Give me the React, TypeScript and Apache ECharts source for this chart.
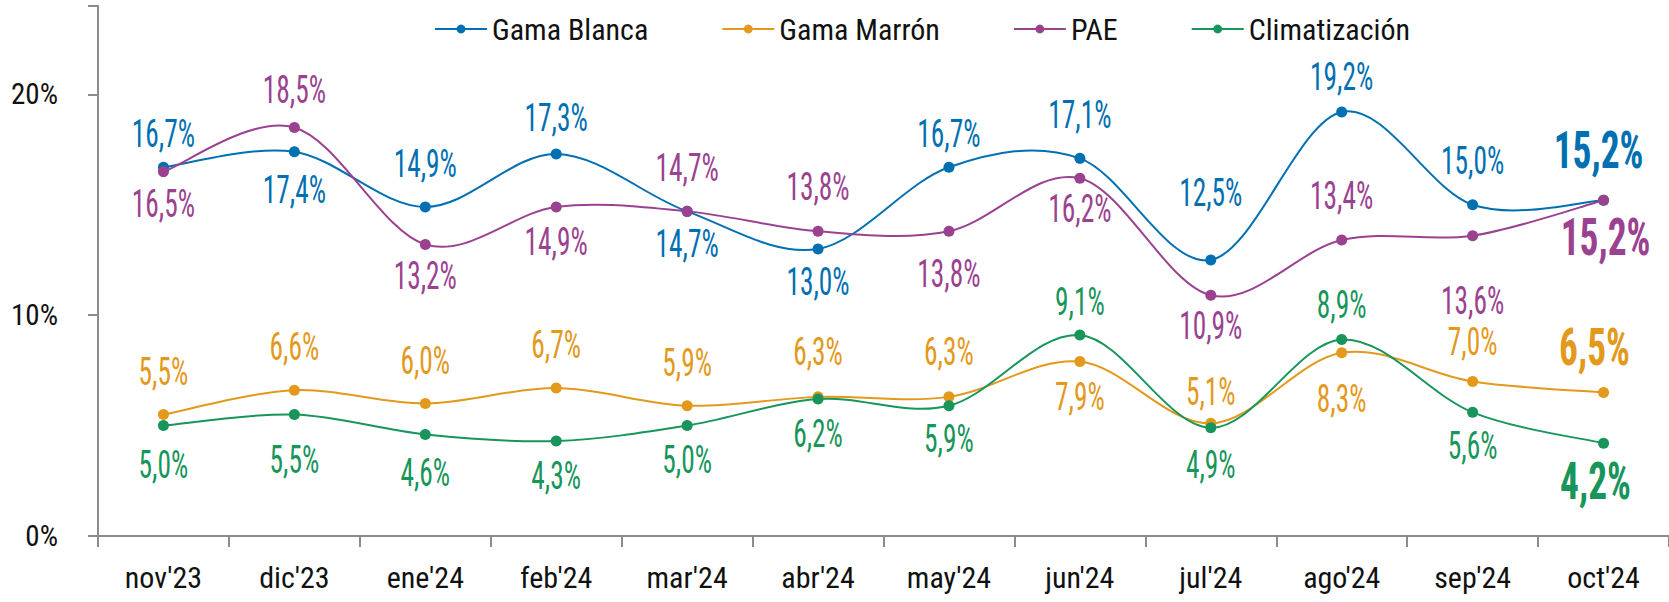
import React, { useEffect, useRef } from "react";
import * as echarts from "echarts";

const categories = ["nov'23", "dic'23", "ene'24", "feb'24", "mar'24", "abr'24", "may'24", "jun'24", "jul'24", "ago'24", "sep'24", "oct'24"];
const seriesNames = ["Gama Blanca", "Gama Marrón", "PAE", "Climatización"];
const gamaBlanca = [16.7, 17.4, 14.9, 17.3, 14.7, 13.0, 16.7, 17.1, 12.5, 19.2, 15.0, 15.2];
const gamaMarron = [5.5, 6.6, 6.0, 6.7, 5.9, 6.3, 6.3, 7.9, 5.1, 8.3, 7.0, 6.5];
const pae = [16.5, 18.5, 13.2, 14.9, 14.7, 13.8, 13.8, 16.2, 10.9, 13.4, 13.6, 15.2];
const climatizacion = [5.0, 5.5, 4.6, 4.3, 5.0, 6.2, 5.9, 9.1, 4.9, 8.9, 5.6, 4.2];
const yTicks = [0, 10, 20];

// label placement (style, not data): vertical offset in px from the point
const offBlanca = [-33, 38, -43, -36, 32, 33, -33, -44, -67, -35, -44, -50];
const offMarron = [-43, -43, -43, -43, -43, -45, -45, 35, -32, 46, -40, -45];
const offPae = [32, -38, 31, 35, -44, -44, 43, 31, 31, -44, 65, 37];
const offClim = [39, 45, 38, 35, 34, 35, 33, -33, 37, -35, 33, 38];
const lastDx = [-5, -9, 2, -8];

const colors = ["#0070b2", "#e3991b", "#9a4290", "#17955a"];
const FONT = '"Roboto Condensed", "DejaVu Sans Condensed", sans-serif';

const fmt = (v: number) => v.toFixed(1).replace(".", ",") + "%";

export default function App() {
  const ref = useRef<HTMLDivElement>(null);
  useEffect(() => {
    if (!ref.current) return;
    const chart = echarts.init(ref.current, undefined, { renderer: "svg" });
    const all = [gamaBlanca, gamaMarron, pae, climatizacion];
    const offs = [offBlanca, offMarron, offPae, offClim];
    const n = categories.length;

    // markers (line itself drawn by curve series below, Excel-like smoothing)
    const lineSeries = all.map((vals, k) => ({
      name: seriesNames[k],
      type: "line",
      data: vals,
      symbol: "circle",
      symbolSize: 11,
      showSymbol: true,
      lineStyle: { width: 2, color: colors[k], opacity: 0 },
      itemStyle: { color: colors[k] },
      emphasis: { disabled: true },
      z: 5 + k,
    }));

    const curveSeries = all.map((vals, k) => ({
      name: "curve" + k,
      type: "custom",
      silent: true,
      z: 1 + k,
      data: vals.map((v, i) => [i, v]),
      encode: { x: 0, y: 1 },
      renderItem: (params: any, api: any) => {
        const i = params.dataIndex;
        if (i >= n - 1) return { type: "group", children: [] };
        const c = (j: number) => {
          const jj = Math.max(0, Math.min(n - 1, j));
          return api.coord([jj, vals[jj]]);
        };
        const p0 = c(i - 1), p1 = c(i), p2 = c(i + 1), p3 = c(i + 2);
        const t = 1 / 6;
        return {
          type: "bezierCurve",
          shape: {
            x1: p1[0], y1: p1[1], x2: p2[0], y2: p2[1],
            cpx1: p1[0] + (p2[0] - p0[0]) * t,
            cpy1: p1[1] + (p2[1] - p0[1]) * t,
            cpx2: p2[0] - (p3[0] - p1[0]) * t,
            cpy2: p2[1] - (p3[1] - p1[1]) * t,
          },
          style: { stroke: colors[k], lineWidth: 2, fill: null },
        };
      },
    }));

    const labelSeries = all.map((vals, k) => ({
      name: "lbl" + k,
      type: "custom",
      silent: true,
      clip: false,
      z: 20,
      data: vals.map((v, i) => [i, v]),
      encode: { x: 0, y: 1 },
      renderItem: (params: any, api: any) => {
        const i = api.value(0);
        const v = api.value(1);
        const pt = api.coord([i, v]);
        const idx = params.dataIndex;
        const last = idx === n - 1;
        return {
          type: "text",
          x: pt[0] + (last ? lastDx[k] : 0),
          y: pt[1] + offs[k][idx],
          scaleX: 0.72,
          style: {
            text: fmt(v),
            fill: colors[k],
            fontSize: last ? 52 : 38,
            fontWeight: last ? "bold" : "normal",
            fontFamily: FONT,
            align: "center",
            verticalAlign: "middle",
          },
        };
      },
    }));

    chart.setOption({
      animation: false,
      legend: {
        data: seriesNames.map((name, k) => ({
          name,
          lineStyle: { width: 2, color: colors[k], opacity: 1 },
        })),
        left: 429,
        top: 9,
        itemWidth: 52,
        itemHeight: 11,
        itemGap: 73,
        textStyle: { fontSize: 30, color: "#111", fontFamily: FONT },
      },
      grid: { left: 98, right: -13, top: 6, bottom: 66 },
      xAxis: {
        type: "category",
        data: categories,
        boundaryGap: true,
        axisLine: { lineStyle: { color: "#8c8c8c", width: 2 } },
        axisTick: { show: true, length: 11, lineStyle: { color: "#8c8c8c", width: 2 } },
        axisLabel: { fontSize: 30, color: "#111", fontFamily: FONT, margin: 26, interval: 0 },
      },
      yAxis: {
        type: "value",
        min: yTicks[0],
        max: 24,
        interval: yTicks[1] - yTicks[0],
        splitLine: { show: false },
        axisLine: { show: true, lineStyle: { color: "#8c8c8c", width: 2 } },
        axisTick: { show: true, length: 10, lineStyle: { color: "#8c8c8c", width: 2 } },
        axisLabel: {
          fontSize: 29,
          color: "#111",
          fontFamily: FONT,
          margin: 40,
          formatter: (v: number) => (yTicks.includes(v) ? v + "%" : ""),
        },
      },
      series: [...curveSeries, ...lineSeries, ...labelSeries],
    });
    return () => chart.dispose();
  }, []);
  return <div ref={ref} style={{ width: 1669, height: 602, position: "absolute", left: 0, top: 0 }} />;
}
